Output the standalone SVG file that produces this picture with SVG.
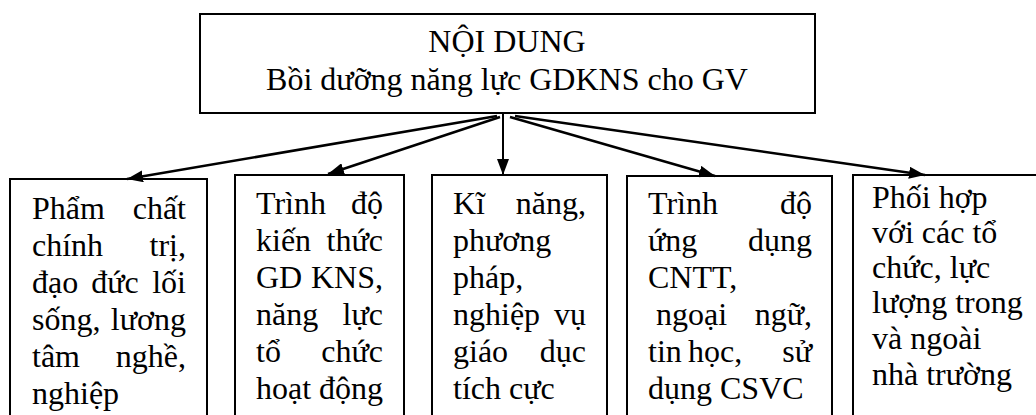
<svg xmlns="http://www.w3.org/2000/svg" width="1036" height="415" viewBox="0 0 1036 415">
<style>
.box{fill:#fff;stroke:#000;stroke-width:2}
.t{font-family:"Liberation Serif","Times New Roman",serif;font-size:32px;fill:#000}
.e{text-anchor:end}
.m{text-anchor:middle}
.c line{stroke:#000;stroke-width:2.5;marker-end:url(#ah)}
</style>
<defs>
<marker id="ah" markerUnits="userSpaceOnUse" markerWidth="16" markerHeight="12" refX="16" refY="6" orient="auto">
<path d="M0,0 L16,6 L0,12 z" fill="#000"/>
</marker>
</defs>
<rect width="1036" height="415" fill="#fff"/>
<g id="root">
<rect class="box" x="200" y="14" width="615" height="99"/>
<text class="t m" x="507" y="52">NỘI DUNG</text>
<text class="t m" x="507" y="90">Bồi dưỡng năng lực GDKNS cho GV</text>
</g>
<g id="n1">
<rect class="box" x="10" y="179" width="197" height="260"/>
<text class="t" x="32" y="219">Phẩm</text><text class="t e" x="186" y="219">chất</text>
<text class="t" x="32" y="256">chính</text><text class="t e" x="186" y="256">trị,</text>
<text class="t" x="32" y="293">đạo</text><text class="t m" x="115" y="293">đức</text><text class="t e" x="186" y="293">lối</text>
<text class="t" x="32" y="330">sống,</text><text class="t e" x="186" y="330">lương</text>
<text class="t" x="32" y="367">tâm</text><text class="t e" x="186" y="367">nghề,</text>
<text class="t" x="32" y="404">nghiệp</text>
</g>
<g id="n2">
<rect class="box" x="235" y="175" width="169" height="260"/>
<text class="t" x="256" y="214">Trình</text><text class="t e" x="383" y="214">độ</text>
<text class="t" x="256" y="251">kiến</text><text class="t e" x="383" y="251">thức</text>
<text class="t" x="256" y="288">GD</text><text class="t e" x="383" y="288">KNS,</text>
<text class="t" x="256" y="325">năng</text><text class="t e" x="383" y="325">lực</text>
<text class="t" x="256" y="362">tổ</text><text class="t e" x="383" y="362">chức</text>
<text class="t" x="256" y="399">hoạt</text><text class="t e" x="383" y="399">động</text>
</g>
<g id="n3">
<rect class="box" x="432" y="175" width="175" height="260"/>
<text class="t" x="453" y="214">Kĩ</text><text class="t e" x="586" y="214">năng,</text>
<text class="t" x="453" y="251">phương</text>
<text class="t" x="453" y="288">pháp,</text>
<text class="t" x="453" y="325">nghiệp</text><text class="t e" x="586" y="325">vụ</text>
<text class="t" x="453" y="362">giáo</text><text class="t e" x="586" y="362">dục</text>
<text class="t" x="453" y="399">tích cực</text>
</g>
<g id="n4">
<rect class="box" x="627" y="176" width="205" height="260"/>
<text class="t" x="648" y="214">Trình</text><text class="t e" x="812" y="214">độ</text>
<text class="t" x="648" y="251">ứng</text><text class="t e" x="812" y="251">dụng</text>
<text class="t" x="648" y="288">CNTT,</text>
<text class="t" x="656" y="325">ngoại</text><text class="t e" x="812" y="325">ngữ,</text>
<text class="t" x="648" y="362">tin</text><text class="t" x="688" y="362">học,</text><text class="t e" x="812" y="362">sử</text>
<text class="t" x="648" y="399">dụng CSVC</text>
</g>
<g id="n5">
<rect class="box" x="853" y="175" width="200" height="260"/>
<text class="t" x="872" y="208">Phối hợp</text>
<text class="t" x="872" y="243">với các tổ</text>
<text class="t" x="872" y="278">chức, lực</text>
<text class="t" x="872" y="313">lượng trong</text>
<text class="t" x="872" y="349">và ngoài</text>
<text class="t" x="872" y="385">nhà trường</text>
</g>
<g id="connectors" class="c">
<line x1="497" y1="116" x2="127" y2="179"/>
<line x1="500" y1="117" x2="328" y2="174"/>
<line x1="503" y1="114" x2="503" y2="175" style="stroke-width:2"/>
<line x1="510" y1="117" x2="715" y2="176"/>
<line x1="515" y1="116" x2="925" y2="175"/>
</g>
</svg>
